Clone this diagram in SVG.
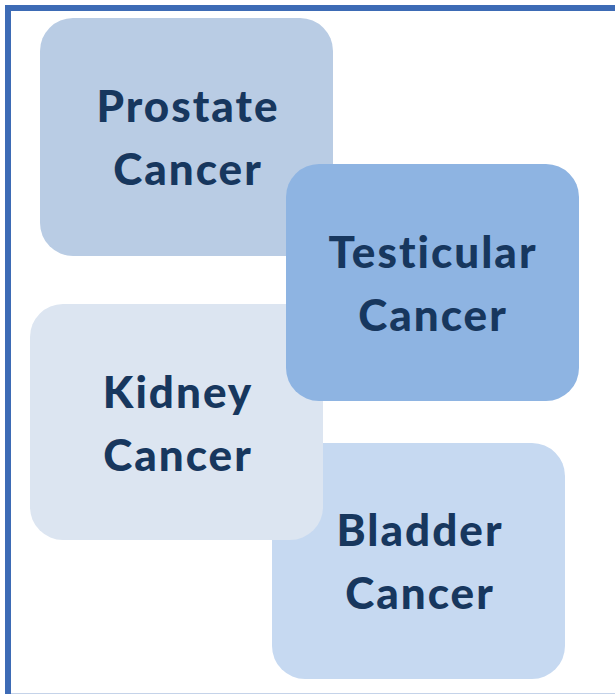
<svg xmlns="http://www.w3.org/2000/svg" width="615" height="694" viewBox="0 0 615 694">
<style>
.box{stroke:none}
.t{font-family:Lato,"Open Sans","Liberation Sans",sans-serif;font-weight:900;font-size:44px;letter-spacing:2px;fill:#17375E;text-anchor:middle}
</style>
<rect x="0" y="0" width="615" height="694" fill="#FFFFFF"/>
<rect x="8" y="8" width="620" height="688.7" fill="none" stroke="#3D6BB5" stroke-width="6"/>
<g id="prostate">
<rect class="box" x="40" y="18" width="293" height="238" rx="33" fill="#B9CCE4"/>
<text class="t" x="188" y="122">Prostate</text>
<text class="t" x="188" y="185">Cancer</text>
</g>
<g id="bladder">
<rect class="box" x="272" y="443" width="293" height="236" rx="33" fill="#C6D9F1"/>
<text class="t" x="420" y="546">Bladder</text>
<text class="t" x="420" y="609">Cancer</text>
</g>
<g id="kidney">
<rect class="box" x="30" y="304" width="293" height="236" rx="33" fill="#DCE5F1"/>
<text class="t" x="178" y="408">Kidney</text>
<text class="t" x="178" y="471">Cancer</text>
</g>
<g id="testicular">
<rect class="box" x="286" y="164" width="293" height="237" rx="33" fill="#8EB4E2"/>
<text class="t" x="433" y="268">Testicular</text>
<text class="t" x="433" y="331">Cancer</text>
</g>
<g id="connectors"></g>
</svg>
